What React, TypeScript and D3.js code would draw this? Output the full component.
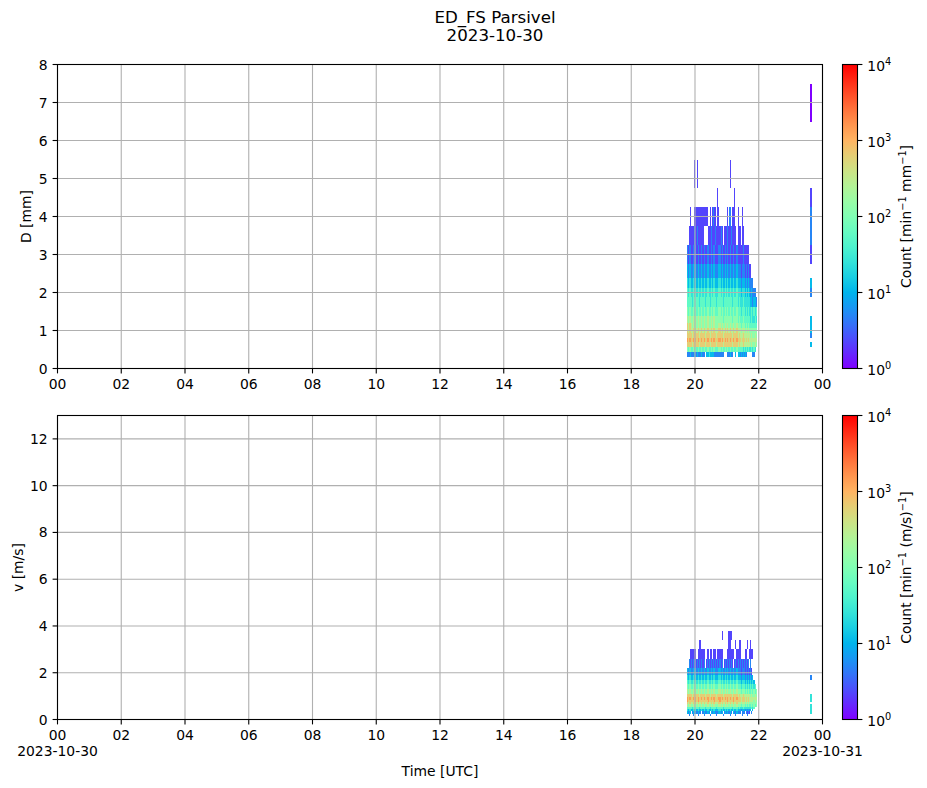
import React, { useEffect, useRef } from 'react';
import * as d3 from 'd3';

// Parsivel class centres (mm and m/s); mesh cells span centre[i] .. centre[i+1]
const diameterCenters = [0.062, 0.187, 0.312, 0.437, 0.562, 0.687, 0.812, 0.937, 1.062, 1.187, 1.375, 1.625, 1.875, 2.125, 2.375, 2.75, 3.25, 3.75, 4.25, 4.75, 5.5, 6.5, 7.5, 8.5, 9.5, 11, 13, 15, 17, 19, 21.5, 24.5];
const velocityCenters = [0.05, 0.15, 0.25, 0.35, 0.45, 0.55, 0.65, 0.75, 0.85, 0.95, 1.1, 1.3, 1.5, 1.7, 1.9, 2.2, 2.6, 3.0, 3.4, 3.8, 4.4, 5.2, 6.0, 6.8, 7.6, 8.8, 10.4, 12.0, 13.6, 15.2, 17.6, 20.8];

// grid characters: '.' = no drops, digit = index into this table of log10(count)
const levelLog10 = [0, 0.35, 0.7, 1.05, 1.4, 1.75, 2.1, 2.45, 2.8, 3.15];

const stepMinutes = 2;
const dayStart = '2023-10-30T00:00:00Z';
const dayEnd = '2023-10-31T00:00:00Z';
const mainStart = '2023-10-30T19:44:00Z';
const lateStart = '2023-10-30T23:36:00Z';

// diameter spectrum, main shower, rows from bin 19 (4.75-5.5 mm) down to bin 2
const dMainTopBin = 19;
const dMainRows = [
  '.......1.. 1......... .......... .......... .1........ .......... ......',
  '.......... .......... .........1 .......... .....1.... .......... ......',
  '...1...111 1111111111 ..1.1211.1 1.......1. 22.111..1. ..1....... ......',
  '..11111211 211111.... 1112111211 1121.11121 1121111.11 1.11...... ......',
  '2122112121 1211212112 2112122111 2212112121 1211211211 111211111. ......',
  '3233223232 2322323223 3223233222 3323223232 2322322322 2122212121 1.....',
  '4344334343 3433434334 4334344333 4434334343 3433433433 3233323232 222...',
  '5455445454 4544545445 5445455444 5545445454 4544544544 4344434343 23222.',
  '5555545555 5545555455 5545555545 5555455555 5554555545 4445444444 332332',
  '6566556565 5655656556 6556566555 6656556565 5655655655 5455545454 454545',
  '7677667676 6766767667 7667677666 6666566666 6665666656 5556555555 454454',
  '8788767676 6766767667 7667677666 7767667676 6766766766 6566656565 555555',
  '8788778787 7877878778 8778788777 8878778787 7877877877 7677767676 666666',
  '8888878888 8878888788 8878888878 8888788888 8887888878 7778777777 676676',
  '9899889898 8988989889 9889899888 9989889898 8988988988 8788878787 777777',
  '8888878888 8878888788 8878888878 8888788888 8887888878 7778777777 676676',
  '6566556565 5655656556 6556566555 6656556565 5655655655 5554545454 45454.',
  '2223222322 3222322.33 3433332222 22222...22 2322..3.33 2323232... ..22..',
];

// diameter spectrum, isolated late minutes, rows from bin 21 (6.5-7.5 mm) down to bin 2
const dLateTopBin = 21;
const dLateRows = ['00', '..', '..', '11', '22', '22', '11', '..', '33', '22', '..', '..', '33', '33', '33', '22', '..', '33', '..', '..'];

// velocity spectrum, main shower, rows from bin 18 (3.4-3.8 m/s) down to bin 1
const vMainTopBin = 18;
const vMainRows = [
  '.......... .......... .......... ...1.....1 111....... .......... ......',
  '.......... ..11...... .......... .........1 11....1..1 1......1.. 1.....',
  '...111111. .111111..1 1.11.111.1 1111....11 11111..111 1....11..1 111...',
  '..21212121 2121212.12 1212121212 1212.12121 2121.12121 212121212. 2.....',
  '3233223232 2322323223 3223233222 3323223232 2322322322 2122212121 21....',
  '4344334343 3433434334 4334344333 4434334343 3433433433 3233323232 323...',
  '5455445454 4544545445 5445455444 5545445454 4544544544 4344434343 4343..',
  '6566556565 5655656556 6556566555 6656556565 5655655655 5455545454 54545.',
  '7677667676 6766767667 7667677666 7767667676 6766766766 6566656565 565656',
  '8888878888 8878888788 8878888878 8888788888 8887888878 7778777777 676676',
  '9899889898 8988989889 9889899888 9989889898 8988988988 8788878787 777777',
  '9888888898 8988888888 9888889888 8988888898 8888988888 8788878787 777676',
  '8788778787 7877878778 8778788777 8878778787 7877877877 7677767676 666666',
  '7677667676 6766767667 7667677666 7767667676 6766766766 6566656565 565656',
  '5555545555 5545555455 5545555545 5555455555 5554555545 4445444444 4545..',
  '4344334343 3433434334 4334344333 4434334343 3433433433 3233323232 3.3...',
  '3233.23232 2322.23223 32.3233222 3323.23232 232.322322 2.222.2121 .2....',
  '..2...2... .2....2... ..2.....2. ....2..... .2....2... ..2....2.. ......',
];

// velocity spectrum, isolated late minutes, rows from bin 13 (1.7-1.9 m/s) down to bin 2
const vLateTopBin = 13;
const vLateRows = ['22', '..', '..', '..', '44', '44', '44', '..', '44', '44', '44', '44'];

const dTicks = [0, 1, 2, 3, 4, 5, 6, 7, 8];
const vTicks = [0, 2, 4, 6, 8, 10, 12];
const colorTicks = [0, 1, 2, 3, 4];

// matplotlib "rainbow" colormap
const rainbow = (t: number) => {
  const r = Math.min(1, Math.abs(2 * t - 0.5));
  const g = Math.sin(Math.PI * t);
  const b = Math.cos((Math.PI * t) / 2);
  return d3.rgb(r * 255, g * 255, b * 255).formatHex();
};

interface Cell { t0: Date; t1: Date; lo: number; hi: number; count: number }

const buildCells = (rows: string[], topBin: number, start: string, centers: number[]): Cell[] => {
  const t = new Date(start).getTime();
  const cells: Cell[] = [];
  rows.forEach((row, r) => {
    const bin = topBin - r;
    row.replace(/ /g, '').split('').forEach((ch, j) => {
      if (ch === '.') return;
      cells.push({
        t0: new Date(t + j * stepMinutes * 60000),
        t1: new Date(t + (j + 1) * stepMinutes * 60000),
        lo: centers[bin],
        hi: centers[bin + 1],
        count: Math.pow(10, levelLog10[+ch]),
      });
    });
  });
  return cells;
};

const FONT = "'DejaVu Sans', sans-serif";

export default function App() {
  const svgRef = useRef<SVGSVGElement>(null);

  useEffect(() => {
    if (!svgRef.current) return;
    const svg = d3.select(svgRef.current);
    svg.selectAll('*').remove();

    const axLeft = 57.5;
    const axRight = 822.5;
    const cbLeft = 842.5;
    const cbRight = 857.5;
    const tickLen = 4.9;

    const x = d3.scaleUtc()
      .domain([new Date(dayStart), new Date(dayEnd)])
      .range([axLeft, axRight]);
    const xTicks = x.ticks(d3.utcHour.every(2)!);

    const colorPos = d3.scaleLog().domain([1, 1e4]).range([0, 1]).clamp(true);

    const defs = svg.append('defs');
    const grad = defs.append('linearGradient')
      .attr('id', 'cmap')
      .attr('x1', 0).attr('y1', 1).attr('x2', 0).attr('y2', 0);
    d3.range(21).forEach(i => {
      grad.append('stop').attr('offset', i / 20).attr('stop-color', rainbow(i / 20));
    });

    // title
    const title = svg.append('text')
      .attr('x', 495).attr('y', 22.5)
      .attr('text-anchor', 'middle')
      .attr('font-family', FONT).attr('font-size', 16.67);
    title.append('tspan').attr('x', 495).text('ED_FS Parsivel');
    title.append('tspan').attr('x', 495).attr('dy', 18.6).text('2023-10-30');

    const panels = [
      {
        top: 64.5, bottom: 368.5, yMax: 8, yTicks: dTicks, yLabel: 'D [mm]', yLabelX: 31,
        unit: 'mm', showDates: false,
        cells: [
          ...buildCells(dMainRows, dMainTopBin, mainStart, diameterCenters),
          ...buildCells(dLateRows, dLateTopBin, lateStart, diameterCenters),
        ],
      },
      {
        top: 415.5, bottom: 719.5, yMax: 13, yTicks: vTicks, yLabel: 'v [m/s]', yLabelX: 23,
        unit: '(m/s)', showDates: true,
        cells: [
          ...buildCells(vMainRows, vMainTopBin, mainStart, velocityCenters),
          ...buildCells(vLateRows, vLateTopBin, lateStart, velocityCenters),
        ],
      },
    ];

    panels.forEach((p, i) => {
      const y = d3.scaleLinear().domain([0, p.yMax]).range([p.bottom, p.top]);
      const g = svg.append('g');

      defs.append('clipPath').attr('id', `clip${i}`)
        .append('rect')
        .attr('x', axLeft).attr('y', p.top)
        .attr('width', axRight - axLeft).attr('height', p.bottom - p.top);

      // mesh
      g.append('g')
        .attr('clip-path', `url(#clip${i})`)
        .attr('shape-rendering', 'crispEdges')
        .selectAll('rect')
        .data(p.cells)
        .join('rect')
        .attr('x', d => x(d.t0))
        .attr('width', d => x(d.t1) - x(d.t0))
        .attr('y', d => y(d.hi))
        .attr('height', d => y(d.lo) - y(d.hi))
        .attr('fill', d => rainbow(colorPos(d.count)));

      // grid on top of the mesh
      const grid = g.append('g').attr('stroke', '#b0b0b0').attr('stroke-width', 1.1);
      xTicks.forEach(t => {
        grid.append('line')
          .attr('x1', x(t)).attr('x2', x(t))
          .attr('y1', p.top).attr('y2', p.bottom);
      });
      p.yTicks.forEach(v => {
        grid.append('line')
          .attr('x1', axLeft).attr('x2', axRight)
          .attr('y1', y(v)).attr('y2', y(v));
      });

      // frame
      g.append('rect')
        .attr('x', axLeft).attr('y', p.top)
        .attr('width', axRight - axLeft).attr('height', p.bottom - p.top)
        .attr('fill', 'none').attr('stroke', '#000').attr('stroke-width', 1.1);

      // x ticks
      xTicks.forEach(t => {
        g.append('line')
          .attr('x1', x(t)).attr('x2', x(t))
          .attr('y1', p.bottom).attr('y2', p.bottom + tickLen)
          .attr('stroke', '#000').attr('stroke-width', 1.1);
        g.append('text')
          .attr('x', x(t)).attr('y', p.bottom + 20)
          .attr('text-anchor', 'middle')
          .attr('font-family', FONT).attr('font-size', 13.9)
          .text(d3.utcFormat('%H')(t));
        if (p.showDates && t.getUTCHours() === 0) {
          g.append('text')
            .attr('x', x(t)).attr('y', p.bottom + 36.5)
            .attr('text-anchor', 'middle')
            .attr('font-family', FONT).attr('font-size', 13.9)
            .text(d3.utcFormat('%Y-%m-%d')(t));
        }
      });

      // y ticks
      p.yTicks.forEach(v => {
        g.append('line')
          .attr('x1', axLeft - tickLen).attr('x2', axLeft)
          .attr('y1', y(v)).attr('y2', y(v))
          .attr('stroke', '#000').attr('stroke-width', 1.1);
        g.append('text')
          .attr('x', axLeft - 2 * tickLen).attr('y', y(v) + 5)
          .attr('text-anchor', 'end')
          .attr('font-family', FONT).attr('font-size', 13.9)
          .text(String(v));
      });

      const yc = (p.top + p.bottom) / 2;
      g.append('text')
        .attr('transform', `translate(${p.yLabelX},${yc}) rotate(-90)`)
        .attr('text-anchor', 'middle')
        .attr('font-family', FONT).attr('font-size', 13.9)
        .text(p.yLabel);

      // colorbar
      const cy = d3.scaleLinear().domain([0, 4]).range([p.bottom, p.top]);
      g.append('rect')
        .attr('x', cbLeft).attr('y', p.top)
        .attr('width', cbRight - cbLeft).attr('height', p.bottom - p.top)
        .attr('fill', 'url(#cmap)')
        .attr('stroke', '#000').attr('stroke-width', 1.1);
      colorTicks.forEach(e => {
        g.append('line')
          .attr('x1', cbRight).attr('x2', cbRight + tickLen)
          .attr('y1', cy(e)).attr('y2', cy(e))
          .attr('stroke', '#000').attr('stroke-width', 1.1);
        const tx = g.append('text')
          .attr('x', cbRight + 2 * tickLen).attr('y', cy(e) + 6)
          .attr('font-family', FONT).attr('font-size', 13.9);
        tx.append('tspan').text('10');
        tx.append('tspan').attr('dy', -6).attr('font-size', 9.8).text(String(e));
      });
      const cl = g.append('text')
        .attr('transform', `translate(911,${yc}) rotate(-90)`)
        .attr('text-anchor', 'middle')
        .attr('font-family', FONT).attr('font-size', 13.9);
      cl.append('tspan').text('Count [min');
      cl.append('tspan').attr('dy', -5.5).attr('font-size', 9.8).text('\u22121');
      cl.append('tspan').attr('dy', 5.5).text(` ${p.unit}`);
      cl.append('tspan').attr('dy', -5.5).attr('font-size', 9.8).text('\u22121');
      cl.append('tspan').attr('dy', 5.5).text(']');
    });

    svg.append('text')
      .attr('x', (axLeft + axRight) / 2).attr('y', 776)
      .attr('text-anchor', 'middle')
      .attr('font-family', FONT).attr('font-size', 13.9)
      .text('Time [UTC]');
  }, []);

  return (
    <svg
      ref={svgRef}
      width={927}
      height={788}
      style={{ position: 'absolute', left: 0, top: 0, background: '#fff' }}
    />
  );
}
